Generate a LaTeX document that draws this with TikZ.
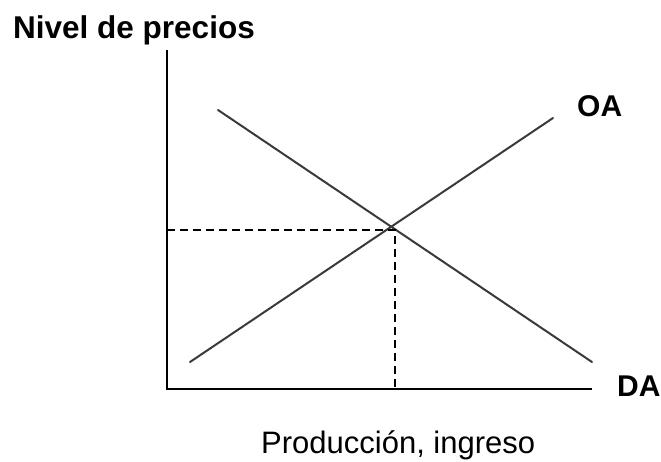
\documentclass[tikz,border=0pt]{standalone}
\usepackage{fontspec}
\setmainfont{Liberation Sans}
\usepackage{xcolor}
\usepackage{tikz}
\usetikzlibrary{calc}
\definecolor{ink}{HTML}{000000}
\definecolor{curve}{HTML}{3A3A3A}
\tikzset{
  axis/.style={draw=ink, line width=2pt, line cap=butt},
  curv/.style={draw=curve, line width=2pt, line cap=round},
  guide/.style={draw=ink, line width=1.6pt, dash pattern=on 8pt off 5pt},
  labb/.style={inner sep=0pt, anchor=base west, font=\fontsize{30}{30}\selectfont\bfseries},
  labr/.style={inner sep=0pt, anchor=base west, font=\fontsize{31}{31}\selectfont},
}
\begin{document}
\begin{tikzpicture}[x=1pt,y=-1pt]
  \useasboundingbox (0,0) rectangle (661,461);
  % axes
  \coordinate (O) at (167,389);
  \coordinate (ytop) at (167,50);
  \coordinate (xend) at (592,389);
  \draw[axis] (ytop) -- (O) -- (xend);
  % curves
  \coordinate (oa0) at (190,362);
  \coordinate (oa1) at (553,118);
  \coordinate (da0) at (218,110);
  \coordinate (da1) at (592,362);
  \draw[curv] (oa0) -- (oa1);
  \draw[curv] (da0) -- (da1);
  % equilibrium
  \coordinate (E) at (395,230);
  \draw[guide] (O |- E) -- (E) -- (E |- O);
  % labels
  \node[labb, font=\fontsize{31.5}{31.5}\selectfont\bfseries] (pl) at (13,38) {Nivel de precios};
  \node[labb] (oa) at (577,116) {OA};
  \node[labb] (da) at (617,396) {DA};
  \node[labr] (xl) at (261,453) {Producción, ingreso};
\end{tikzpicture}
\end{document}
